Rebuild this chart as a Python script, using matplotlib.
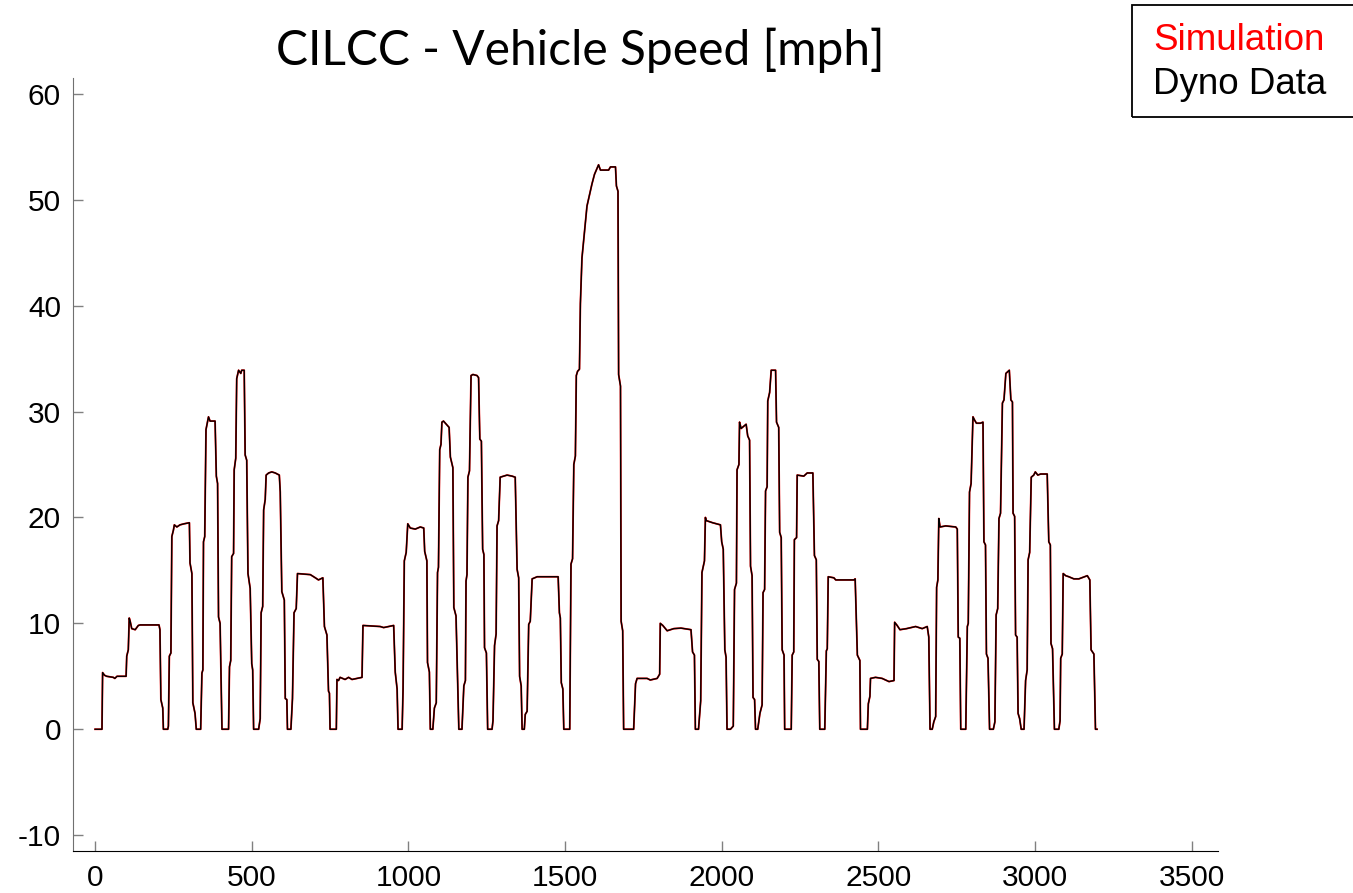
import matplotlib
matplotlib.use('Agg')
import matplotlib.pyplot as plt
from matplotlib.patches import Rectangle

plt.rcParams['axes.unicode_minus'] = False

# CILCC drive cycle, breakpoints (time [s], speed [mph])
time_s = [
    0, 22, 24, 30, 37, 58, 63, 70, 99, 101, 106, 109, 112, 117, 128, 138, 144, 204, 207, 210, 216, 218, 232,
    234, 237, 242, 245, 250, 253, 261, 271, 284, 301, 303, 309, 312, 319, 323, 337,
    341, 344, 346, 350, 354, 362, 367, 383, 387, 391, 394, 399, 405, 426,
    429, 433, 436, 442, 444, 449, 452, 458, 465, 468, 476, 479, 484, 488, 495, 500, 503, 506, 522,
    527, 530, 535, 538, 543, 546, 554, 564, 575, 588, 591, 596, 604, 607, 612, 614, 625,
    630, 635, 642, 646, 687, 703, 713, 727, 732, 740, 745, 748, 750, 770,
    772, 777, 782, 798, 809, 820, 852, 855, 910, 921, 953, 958, 964, 967, 980,
    983, 987, 993, 998, 1006, 1022, 1038, 1049, 1052, 1059, 1061, 1067, 1070, 1078,
    1083, 1089, 1093, 1096, 1100, 1104, 1107, 1112, 1121, 1130, 1134, 1142, 1145, 1152, 1161, 1171,
    1177, 1182, 1184, 1187, 1190, 1195, 1200, 1206, 1219, 1224, 1228, 1233, 1237, 1241, 1243, 1249, 1253, 1267,
    1270, 1275, 1280, 1283, 1288, 1293, 1304, 1315, 1331, 1341, 1347, 1352, 1355, 1360, 1363, 1370,
    1373, 1379, 1384, 1389, 1395, 1411, 1478, 1482, 1485, 1488, 1493, 1496, 1515,
    1519, 1524, 1528, 1533, 1536, 1540, 1546, 1549, 1554, 1562, 1570, 1579, 1586, 1594, 1607, 1613, 1639,
    1645, 1661, 1664, 1669, 1671, 1677, 1679, 1684, 1687, 1719,
    1725, 1730, 1762, 1772, 1794, 1802, 1804, 1812, 1826, 1847, 1870, 1902, 1907, 1913, 1916, 1926,
    1933, 1937, 1945, 1948, 1951, 1971, 1996, 2000, 2005, 2010, 2014, 2017, 2028,
    2037, 2041, 2047, 2049, 2055, 2057, 2062, 2078, 2083, 2089, 2092, 2097, 2100, 2105, 2108, 2115,
    2122, 2129, 2132, 2137, 2140, 2145, 2147, 2153, 2158, 2172, 2175, 2182, 2185, 2190, 2193, 2199, 2201, 2222,
    2225, 2230, 2232, 2239, 2241, 2262, 2273, 2291, 2296, 2302, 2305, 2310, 2313, 2329,
    2334, 2337, 2340, 2358, 2364, 2422, 2426, 2433, 2441, 2443, 2465,
    2468, 2473, 2475, 2491, 2512, 2534, 2550, 2552, 2560, 2569, 2590, 2619, 2640, 2656, 2661, 2665, 2672,
    2677, 2683, 2686, 2690, 2693, 2697, 2715, 2747, 2752, 2755, 2760, 2763, 2779,
    2784, 2787, 2791, 2796, 2802, 2807, 2813, 2826, 2834, 2837, 2842, 2845, 2850, 2855, 2867,
    2872, 2876, 2881, 2885, 2890, 2896, 2901, 2907, 2918, 2923, 2928, 2930, 2935, 2938, 2943, 2946, 2951, 2956, 2965,
    2970, 2975, 2978, 2983, 2988, 2996, 3001, 3009, 3018, 3039, 3044, 3049, 3051, 3056, 3062, 3076,
    3080, 3082, 3087, 3090, 3098, 3108, 3124, 3140, 3167, 3175, 3179, 3188, 3193, 3198,
]
speed_mph = [
    0, 0, 5.35, 5.1, 5.0, 4.9, 4.8, 5.0, 5.0, 6.9, 7.5, 10.5, 10.2, 9.5, 9.4, 9.8, 9.85, 9.85, 9.4, 2.8, 2.0, 0, 0,
    0.3, 6.9, 7.2, 18.2, 18.8, 19.3, 19.1, 19.3, 19.4, 19.5, 15.7, 14.7, 2.5, 1.5, 0, 0,
    5.3, 5.6, 17.7, 18.2, 28.3, 29.5, 29.1, 29.1, 23.9, 23.2, 10.6, 10.0, 0, 0,
    5.9, 6.5, 16.3, 16.6, 24.5, 25.6, 33.1, 33.9, 33.6, 33.9, 33.9, 25.9, 25.4, 14.7, 13.3, 6.2, 5.6, 0, 0,
    1.0, 11.0, 11.6, 20.7, 21.7, 24.0, 24.2, 24.3, 24.2, 24.0, 22.4, 13.0, 12.2, 2.9, 2.8, 0, 0,
    2.9, 11.0, 11.4, 14.7, 14.6, 14.3, 14.1, 14.3, 9.7, 8.9, 3.6, 3.4, 0, 0,
    4.7, 4.6, 4.9, 4.7, 4.9, 4.7, 4.9, 9.8, 9.7, 9.6, 9.8, 5.4, 3.8, 0, 0,
    3.8, 15.9, 16.7, 19.4, 19.0, 18.9, 19.1, 19.0, 16.8, 15.9, 6.3, 5.4, 0, 0,
    2.0, 2.5, 14.8, 15.3, 26.4, 26.9, 29.0, 29.1, 28.8, 28.5, 25.7, 24.7, 11.5, 10.7, 0, 0,
    4.1, 4.6, 14.0, 14.6, 23.8, 24.4, 33.4, 33.5, 33.4, 33.2, 27.4, 27.2, 17.0, 16.5, 7.7, 7.2, 0, 0,
    0.8, 7.9, 9.0, 19.2, 19.7, 23.8, 23.9, 24.0, 23.9, 23.8, 15.1, 14.3, 5.0, 4.1, 0, 0,
    1.4, 1.7, 9.9, 10.2, 14.2, 14.4, 14.4, 11.0, 10.5, 4.4, 3.8, 0, 0,
    15.6, 16.1, 25.0, 25.8, 33.4, 33.8, 34.0, 40.2, 44.5, 47.0, 49.4, 50.6, 51.5, 52.4, 53.3, 52.8, 52.8,
    53.1, 53.1, 51.3, 50.8, 33.5, 32.4, 10.2, 9.3, 0, 0,
    4.3, 4.8, 4.8, 4.65, 4.8, 5.2, 10.0, 9.8, 9.3, 9.5, 9.55, 9.4, 7.3, 7.0, 0, 0,
    2.7, 14.8, 15.9, 20.0, 19.7, 19.5, 19.3, 17.7, 17.0, 7.5, 6.8, 0, 0,
    0.3, 13.2, 13.8, 24.5, 25.0, 29.0, 28.4, 28.8, 27.7, 27.3, 15.4, 14.5, 3.0, 2.8, 0, 0,
    1.5, 2.3, 12.9, 13.2, 22.5, 22.9, 31.0, 31.8, 33.9, 33.9, 29.0, 28.5, 18.6, 18.1, 7.5, 7.0, 0, 0,
    7.0, 7.3, 17.9, 18.1, 24.0, 23.9, 24.2, 24.2, 16.4, 16.0, 6.6, 6.4, 0, 0,
    7.4, 7.6, 14.4, 14.3, 14.1, 14.1, 14.2, 7.0, 6.5, 0, 0,
    2.4, 3.1, 4.8, 4.9, 4.8, 4.5, 4.6, 10.1, 9.8, 9.4, 9.5, 9.7, 9.5, 9.7, 8.7, 0, 0,
    0.7, 1.2, 13.4, 14.1, 19.9, 19.1, 19.2, 19.1, 18.9, 8.7, 8.6, 0, 0,
    9.7, 10.0, 22.4, 23.2, 29.5, 29.2, 28.9, 28.9, 29.0, 17.7, 17.4, 7.1, 6.7, 0, 0,
    0.7, 10.8, 11.4, 19.9, 20.4, 30.8, 31.1, 33.6, 33.9, 31.1, 30.9, 20.4, 20.1, 8.9, 8.7, 1.5, 1.0, 0, 0,
    4.6, 5.6, 16.0, 16.7, 23.8, 24.0, 24.3, 24.0, 24.1, 24.1, 17.7, 17.4, 8.1, 7.6, 0, 0,
    0.8, 6.7, 7.1, 14.7, 14.5, 14.4, 14.2, 14.2, 14.5, 14.1, 7.5, 7.1, 0, 0,
]

x_ticks = [0, 500, 1000, 1500, 2000, 2500, 3000, 3500]
y_ticks = [-10, 0, 10, 20, 30, 40, 50, 60]

fig = plt.figure(figsize=(13.53, 8.93), dpi=100)
ax = fig.add_axes([0.0543, 0.047, 0.8459, 0.8657])

# simulation lies almost exactly under the dyno trace
ax.plot(time_s, speed_mph, color='#ff0000', lw=1.3)
ax.plot(time_s, speed_mph, color='black', lw=1.0)

ax.set_xlim(-69, 3584)
ax.set_ylim(-11.5, 61.5)
ax.set_xticks(x_ticks)
ax.set_yticks(y_ticks)
for side in ['top', 'right']:
    ax.spines[side].set_visible(False)
ax.spines['left'].set_color('#707070')
ax.spines['bottom'].set_color('black')
ax.tick_params(direction='in', length=7, width=1, color='#808080')
ax.tick_params(axis='y', pad=9)
ax.tick_params(axis='x', pad=9)
for lab in ax.get_xticklabels() + ax.get_yticklabels():
    lab.set_fontfamily('Liberation Sans')
    lab.set_fontsize(21.5)

fig.text(0.4287, 0.944, 'CILCC - Vehicle Speed [mph]', fontsize=34.5, family='Lato',
         ha='center', va='center')

# legend box (runs off the right edge)
fig.patches.append(Rectangle((0.8367, 0.869), 0.2, 0.1254, transform=fig.transFigure,
                             fill=False, ec='black', lw=1.3))
fig.text(0.8522, 0.955, 'Simulation', color='#ff0000', fontsize=26.5,
         family='Liberation Sans', va='center')
fig.text(0.8522, 0.905, 'Dyno Data', color='black', fontsize=26.5,
         family='Liberation Sans', va='center')

fig.savefig('out.png', dpi=100)
